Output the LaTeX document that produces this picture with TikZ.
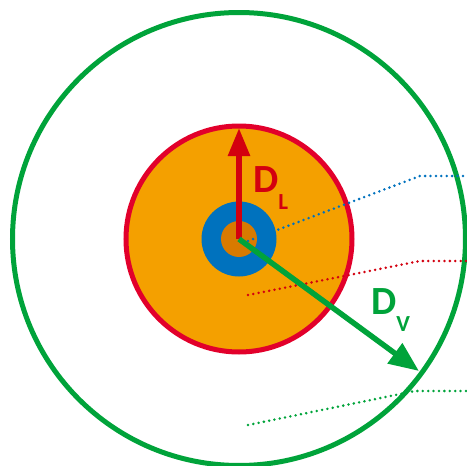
\documentclass[tikz,border=0pt]{standalone}
\usepackage{fontspec}
\setmainfont{Carlito}
\usetikzlibrary{arrows.meta}
\definecolor{leafgreen}{HTML}{00A33A}
\definecolor{rimred}{HTML}{E2002B}
\definecolor{arrowred}{HTML}{D3000F}
\definecolor{pulp}{HTML}{F4A000}
\definecolor{ringblue}{HTML}{0072BE}
\definecolor{core}{HTML}{D87A00}
\tikzset{
  leader/.style={line width=2.8pt, line cap=round, dash pattern=on 0pt off 5.4pt},
  dlabel/.style={anchor=base west, inner sep=0pt, font=\bfseries\fontsize{40}{40}\selectfont}
}

\begin{document}
\begin{tikzpicture}[x=1pt, y=-1pt]
\useasboundingbox (0,0) rectangle (467,466);

% Centre of the drawing
\coordinate (c) at (239,239);

% Outer green circle and inner red disc
\draw[line width=5pt, leafgreen] (c) circle (226.5);
\draw[line width=5pt, rimred, fill=pulp] (c) circle (113);

% Blue ring and core
\fill[ringblue] (c) circle (37.5);
\fill[core] (c) circle (18);

% Leader lines to the right
\coordinate (bl) at (420,176);
\coordinate (rl) at (420,261);
\coordinate (gl) at (415,391);
\draw[leader, ringblue] (248,241) -- (bl) -- (467,176);
\draw[leader, arrowred] (248,295) -- (rl) -- (467,261);
\draw[leader, leafgreen] (248,425) -- (gl) -- (467,391);

% Arrows for the two radii
\coordinate (lt) at (239,128);
\coordinate (vt) at (419,371);
\draw[line width=5.7pt, arrowred, -{Triangle[length=28pt, width=21pt]}] (c) -- (lt);
\draw[line width=5.5pt, leafgreen, -{Triangle[length=30pt, width=24pt]}] (c) -- (vt);

% Labels
\node[dlabel, text=arrowred] (dl) at (253,192) {D\raisebox{-17pt}{\fontsize{23}{23}\selectfont L}};
\node[dlabel, text=leafgreen] (dv) at (371,314) {D\raisebox{-17pt}{\fontsize{23}{23}\selectfont V}};

\end{tikzpicture}
\end{document}
